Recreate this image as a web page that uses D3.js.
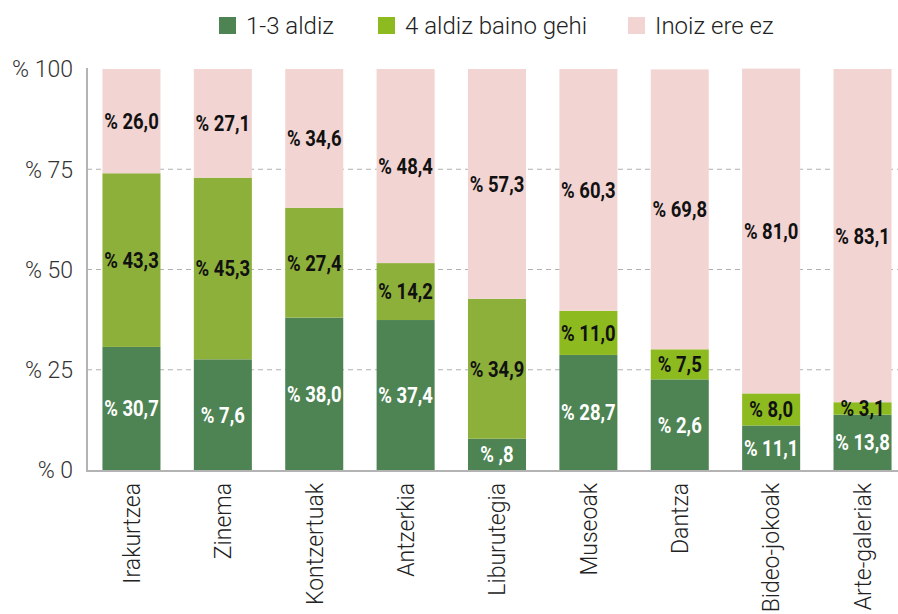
<!DOCTYPE html>
<html>
<head>
<meta charset="utf-8">
<script src="https://cdn.jsdelivr.net/npm/d3@7"></script>
<style>
  body { margin: 0; background: #fff; }
  text { font-family: Roboto, sans-serif; }
</style>
</head>
<body>
<svg id="chart" width="898" height="614"></svg>
<script>
// categories and values (percent)
var categories = ["Irakurtzea", "Zinema", "Kontzertuak", "Antzerkia", "Liburutegia",
                  "Museoak", "Dantza", "Bideo-jokoak", "Arte-galeriak"];
var series = ["1-3 aldiz", "4 aldiz baino gehi", "Inoiz ere ez"];
var aldiz13   = [30.7, 27.6, 38.0, 37.4, 7.8, 28.7, 22.6, 11.1, 13.8];
var aldiz4    = [43.3, 45.3, 27.4, 14.2, 34.9, 11.0, 7.5, 8.0, 3.1];
var inoiz     = [26.0, 27.1, 34.6, 48.4, 57.3, 60.3, 69.8, 81.0, 83.1];
// labels of the first series as printed in the original
var labels13  = ["% 30,7", "% 7,6", "% 38,0", "% 37,4", "% ,8", "% 28,7", "% 2,6", "% 11,1", "% 13,8"];
var yTicks    = [0, 25, 50, 75, 100];

var colDark = "#4e8453", colPink = "#f2d5d3";
var colOlive = ["#8db03a", "#8db03a", "#8db03a", "#8db03a", "#8db03a",
                "#8cba1f", "#8cba1f", "#8cba1f", "#8cba1f"];

var svg = d3.select("#chart");

var x = d3.scaleBand().domain(categories).range([86, 908]).paddingInner(0.365).paddingOuter(0.18);
var y = d3.scaleLinear().domain([0, 100]).range([470, 69]);

var fmt = function (v) { return "% " + d3.format(".1f")(v).replace(".", ","); };

// gridlines
svg.append("g").selectAll("line")
  .data(yTicks.filter(function (t) { return t > 0 && t < 100; }))
  .enter().append("line")
    .attr("x1", 87).attr("x2", 898)
    .attr("y1", function (d) { return y(d); })
    .attr("y2", function (d) { return y(d); })
    .attr("stroke", "#b0b0b0").attr("stroke-dasharray", "5,4");

// stacked bars
var rows = categories.map(function (c, i) {
  return { cat: c, i: i, segs: [
    { y0: 0, y1: aldiz13[i], fill: colDark, label: labels13[i], color: "#fff" },
    { y0: aldiz13[i], y1: aldiz13[i] + aldiz4[i], fill: colOlive[i], label: fmt(aldiz4[i]), color: "#111" },
    { y0: aldiz13[i] + aldiz4[i], y1: aldiz13[i] + aldiz4[i] + inoiz[i], fill: colPink, label: fmt(inoiz[i]), color: "#111" }
  ]};
});

var g = svg.selectAll("g.bar").data(rows).enter().append("g").attr("class", "bar");

g.selectAll("rect").data(function (d) { return d.segs.map(function (s) { s.cat = d.cat; return s; }); })
  .enter().append("rect")
    .attr("x", function (s) { return x(s.cat); })
    .attr("width", x.bandwidth())
    .attr("y", function (s) { return y(s.y1); })
    .attr("height", function (s) { return y(s.y0) - y(s.y1); })
    .attr("fill", function (s) { return s.fill; });

g.selectAll("text").data(function (d) { return d.segs; })
  .enter().append("text")
    .attr("transform", function (s) {
      var cx = x(s.cat) + x.bandwidth() / 2, cy = y((s.y0 + s.y1) / 2);
      return "translate(" + cx + "," + cy + ") scale(0.84,1)";
    })
    .attr("text-anchor", "middle").attr("dy", "0.36em")
    .attr("font-size", 22).attr("font-weight", 700)
    .attr("fill", function (s) { return s.color; })
    .text(function (s) { return s.label; });

// axes lines
svg.append("line").attr("x1", 87).attr("x2", 87).attr("y1", 68).attr("y2", 471)
  .attr("stroke", "#b3b3b3").attr("stroke-width", 2);
svg.append("line").attr("x1", 86).attr("x2", 898).attr("y1", 471).attr("y2", 471)
  .attr("stroke", "#b3b3b3").attr("stroke-width", 2);

// y tick labels
svg.append("g").selectAll("text").data(yTicks).enter().append("text")
  .attr("x", 73).attr("y", function (d) { return y(d); })
  .attr("dy", "0.36em").attr("text-anchor", "end")
  .attr("font-size", 23).attr("font-weight", 300).attr("fill", "#333")
  .text(function (d) { return "% " + d; });

// category labels
svg.append("g").selectAll("text").data(categories).enter().append("text")
  .attr("transform", function (d) { return "translate(" + (x(d) + x.bandwidth() / 2) + ",483) rotate(-90)"; })
  .attr("dy", "0.36em").attr("text-anchor", "end")
  .attr("font-size", 23).attr("font-weight", 300).attr("fill", "#222")
  .text(function (d) { return d; });

// legend
var legX = [219, 378, 628];
var legCol = [colDark, "#8cba1f", colPink];
var leg = svg.append("g").selectAll("g").data(series).enter().append("g")
  .attr("transform", function (d, i) { return "translate(" + legX[i] + ",17)"; });
leg.append("rect").attr("width", 17).attr("height", 17)
  .attr("fill", function (d, i) { return legCol[i]; });
leg.append("text").attr("x", 27).attr("y", 8.5).attr("dy", "0.36em")
  .attr("font-size", 24).attr("font-weight", 300).attr("fill", "#222")
  .text(function (d) { return d; });
</script>
</body>
</html>
